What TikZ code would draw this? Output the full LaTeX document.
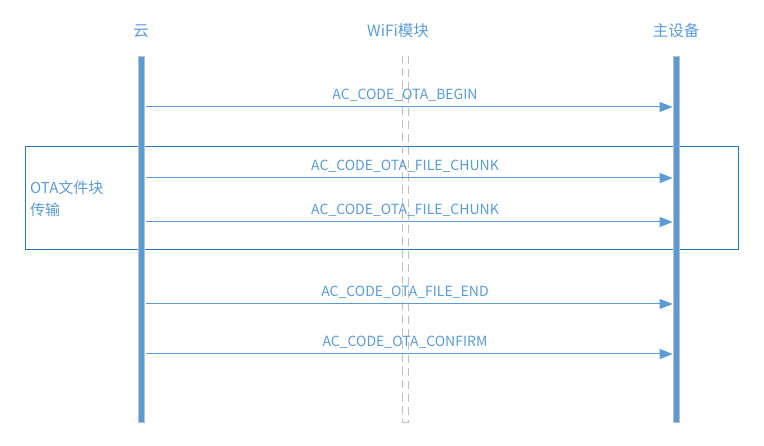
\documentclass[tikz,border=0pt]{standalone}
\usepackage{fontspec}
\setmainfont{Noto Sans CJK SC}
\usetikzlibrary{arrows.meta}
\definecolor{lblue}{HTML}{5B9BD5}
\definecolor{dblue}{HTML}{2E75B6}
\definecolor{lgray}{HTML}{BFBFBF}
\tikzset{
  hdr/.style={text=lblue, font=\fontsize{15.5}{18}\selectfont, inner sep=0pt},
  lbl/.style={text=lblue, font=\fontsize{14}{16}\selectfont, inner sep=0pt, anchor=base},
  life/.style={fill=lblue, draw=lgray, line width=0.8pt},
  msg/.style={draw=lblue, line width=1pt, -{Triangle[length=13pt,width=10pt]}},
}
\begin{document}
\begin{tikzpicture}[x=1pt,y=-1pt]
\useasboundingbox (0,0) rectangle (764,446);
% frame
\draw[dblue, line width=0.8pt] (25,146) rectangle (738,249);
\node[text=lblue, font=\fontsize{15}{22}\selectfont, align=left, anchor=west, inner sep=0pt] (frm) at (30,199) {OTA文件块\\传输};
% headers
\node[hdr] (hc) at (141,31) {云};
\node[hdr] (hw) at (398,31) {WiFi模块};
\node[hdr] (hm) at (676,31) {主设备};
% lifelines
\node[life, minimum width=6pt, minimum height=366pt, inner sep=0pt] (lc) at (141,239) {};
\node[life, minimum width=6pt, minimum height=366pt, inner sep=0pt] (lm) at (676,239) {};
\node[draw=lgray, dash pattern=on 8pt off 5pt, line width=0.9pt, minimum width=6pt, minimum height=366pt, inner sep=0pt] (lw) at (405,239) {};
% messages
\foreach \y/\t/\n in {107/AC\_CODE\_OTA\_BEGIN/m1, 178/AC\_CODE\_OTA\_FILE\_CHUNK/m2, 222/AC\_CODE\_OTA\_FILE\_CHUNK/m3, 304/AC\_CODE\_OTA\_FILE\_END/m4, 354/AC\_CODE\_OTA\_CONFIRM/m5}{
  \coordinate (\n s) at (lc.east |- 0,\y);
  \coordinate (\n e) at (lm.west |- 0,\y);
  \draw[msg] ([xshift=2pt]\n s) -- (\n e);
  \node[lbl] (\n l) at (405,{\y-7}) {\t};
}
\end{tikzpicture}
\end{document}
